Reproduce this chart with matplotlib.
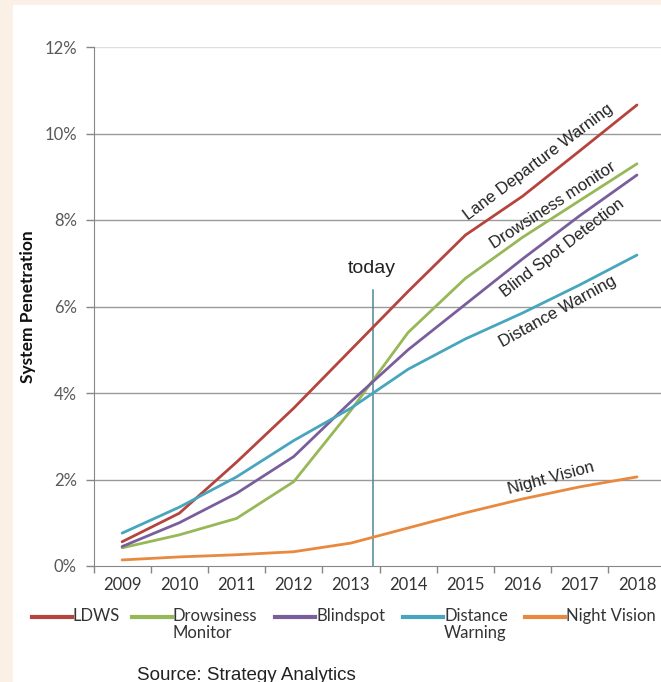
import matplotlib
matplotlib.use("Agg")
import matplotlib.pyplot as plt
from matplotlib.lines import Line2D
from matplotlib.patches import Rectangle
from matplotlib.ticker import FixedLocator, NullFormatter

# Data (system penetration, %)
years = ['2009', '2010', '2011', '2012', '2013', '2014', '2015', '2016', '2017', '2018']
ldws = [0.56, 1.22, 2.4, 3.65, 5.0, 6.35, 7.65, 8.55, 9.6, 10.66]
drowsiness = [0.42, 0.72, 1.1, 1.95, 3.6, 5.4, 6.65, 7.6, 8.45, 9.3]
blindspot = [0.45, 1.0, 1.68, 2.53, 3.8, 5.0, 6.05, 7.1, 8.1, 9.04]
distance = [0.76, 1.36, 2.06, 2.9, 3.65, 4.55, 5.25, 5.85, 6.5, 7.19]
night_vision = [0.14, 0.21, 0.26, 0.33, 0.53, 0.88, 1.23, 1.55, 1.83, 2.06]

series_names = ['LDWS', 'Drowsiness\nMonitor', 'Blindspot', 'Distance\nWarning', 'Night Vision']
series_colors = ['#B5443F', '#97B856', '#7A5E9C', '#47A5BD', '#E8893F']
series_labels = ['Lane Departure Warning', 'Drowsiness monitor', 'Blind Spot Detection',
                 'Distance Warning', 'Night Vision']
today_pos = 4.39
today_top = 6.38

W, H = 661, 682
fig = plt.figure(figsize=(W / 100, H / 100), dpi=100, facecolor='#FAF0E6')
fig.patches.append(Rectangle((13 / W, 0), 1 - 13 / W, 1 - 5 / H, transform=fig.transFigure,
                             facecolor='white', edgecolor='none', zorder=-5))

ax = fig.add_axes([93.5 / W, 116 / H, (W - 93.5) / W, (566 - 47) / H])
ax.set_facecolor('none')
ax.set_zorder(2)

x = list(range(len(years)))
all_series = [ldws, drowsiness, blindspot, distance, night_vision]
for vals, col in zip(all_series, series_colors):
    ax.plot(x, vals, color=col, lw=2.0, solid_capstyle='round', zorder=3)

ax.set_xlim(-0.5, 9.42)
ax.set_ylim(0, 12)

# y axis
ax.set_yticks(range(0, 13, 2))
ax.set_yticklabels([f'{v}%' for v in range(0, 13, 2)], fontsize=12, color='#595959',
                   family='Lato')
ax.yaxis.grid(True, color='#9a9a9a', lw=1.0)
ax.set_axisbelow(True)
gl = ax.yaxis.get_gridlines()
gl[-1].set_color('#dedede')
gl[0].set_visible(False)

# x axis: labels at category centres, ticks at boundaries
ax.set_xticks(x)
ax.set_xticklabels(years, fontsize=12, color='#333333', family='Lato')
ax.tick_params(axis='x', which='major', length=0, pad=8)
ax.xaxis.set_minor_locator(FixedLocator([i - 0.5 for i in range(len(years))]))
ax.xaxis.set_minor_formatter(NullFormatter())
ax.tick_params(axis='x', which='minor', length=5, color='#868686', width=1)
ax.tick_params(axis='y', length=6, color='#868686', width=1, pad=6)

for s in ['top', 'right']:
    ax.spines[s].set_visible(False)
ax.spines['left'].set_color('#868686')
ax.spines['bottom'].set_color('#868686')

ax.set_ylabel('System Penetration', fontsize=12.5, fontweight='bold', family='Lato',
              color='#111111')
ax.yaxis.set_label_coords(-0.102, 0.5)

# "today" marker
ax.plot([today_pos, today_pos], [0, today_top], color='#4F8795', lw=1.1, zorder=2)
ax.text(today_pos - 0.02, 6.89, 'today', fontsize=14, family='Liberation Sans',
        ha='center', va='center', color='#222222')

# in-plot series labels
label_pos = [(7.27, 9.34, 37), (7.53, 8.35, 33), (7.69, 7.35, 37.5), (7.62, 5.87, 29), (7.5, 2.03, 15)]
for txt, (lx, ly, rot) in zip(series_labels, label_pos):
    ax.text(lx, ly, txt, rotation=rot, rotation_mode='anchor', ha='center', va='center',
            fontsize=12, family='Liberation Sans', color='#222222')

# legend drawn by hand so handles line up with the first text line
leg_x = [32, 132, 275, 403, 525]
leg_y = H - 617
for lx, name, col in zip(leg_x, series_names, series_colors):
    fig.add_artist(Line2D([lx / W, (lx + 40) / W], [leg_y / H, leg_y / H], color=col, lw=3,
                          transform=fig.transFigure))
    fig.text((lx + 41) / W, (leg_y + 9) / H, name, fontsize=12, family='Lato', color='#333333',
             ha='left', va='top', linespacing=1.05)

fig.text(137 / W, (H - 675) / H, 'Source: Strategy Analytics', fontsize=13.5,
         family='Liberation Sans', color='#222222', ha='left', va='center')

fig.savefig('out.png', dpi=100, facecolor=fig.get_facecolor())
